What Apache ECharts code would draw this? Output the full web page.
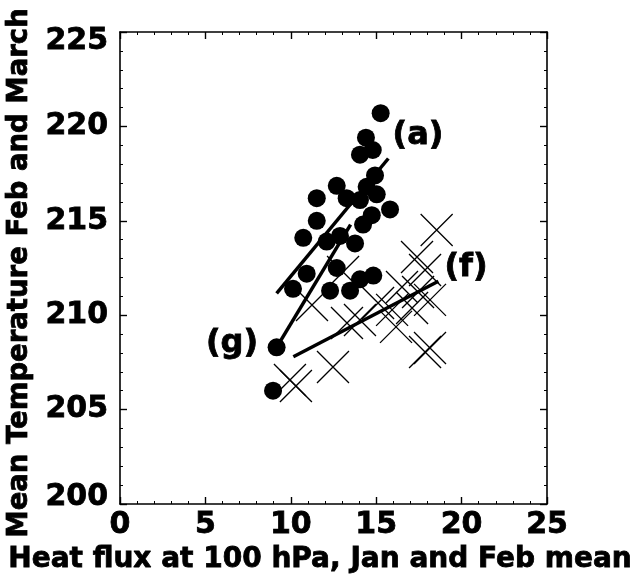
<!DOCTYPE html>
<html>
<head>
<meta charset="utf-8">
<script src="https://cdn.jsdelivr.net/npm/echarts@6/dist/echarts.min.js"></script>
<style>
html,body{margin:0;padding:0;background:#fff;}
#chart{width:638px;height:581px;}
</style>
</head>
<body>
<div id="chart"></div>
<script>
// Filled circles: heat flux (x) vs mean temperature (y)
const dotX = [15.26, 14.40, 14.80, 14.05, 14.93, 14.44, 12.69, 15.03, 13.27, 11.52, 14.05, 15.81, 14.74, 14.23, 11.52, 10.73, 12.10, 12.88, 13.76, 12.69, 10.93, 10.13, 12.30, 13.47, 14.05, 14.83, 9.17, 8.96];
const dotY = [220.7, 219.4, 218.75, 218.5, 217.4, 216.8, 216.85, 216.4, 216.2, 216.2, 216.1, 215.6, 215.3, 214.8, 215.0, 214.1, 213.9, 214.2, 213.8, 212.5, 212.2, 211.4, 211.3, 211.3, 211.9, 212.1, 208.3, 206.0];
// Crosses
const crossX = [18.54, 17.39, 17.86, 16.51, 17.45, 18.15, 15.93, 17.10, 15.11, 16.16, 14.05, 13.29, 11.24, 13.06, 17.86, 18.15, 12.47, 9.95, 10.30];
const crossY = [214.51, 213.08, 212.39, 211.49, 211.23, 210.81, 210.28, 210.38, 210.65, 209.38, 209.75, 209.59, 210.54, 212.29, 208.05, 208.26, 207.26, 206.57, 206.25];
// Fitted lines
const lineAX = [9.17, 15.71];
const lineAY = [211.16, 218.3];
const lineGX = [9.17, 13.5];
const lineGY = [208.3, 214.8];
const lineFX = [10.15, 18.64];
const lineFY = [207.8, 211.8];
// Curve labels
const labelText = ['(a)', '(f)', '(g)'];
const labelX = [17.45, 20.26, 6.56];
const labelY = [219.5, 212.5, 208.5];
// Axis settings
const xMin = 0, xMax = 25, xStep = 5;
const yMin = 200, yMax = 225, yStep = 5;
const xTitle = 'Heat flux at 100 hPa, Jan and Feb mean';
const yTitle = 'Mean Temperature Feb and March';

const zip = (a, b) => a.map((v, i) => [v, b[i]]);
const FONT = '"DejaVu Sans", sans-serif';
const crossPath = 'path://M0,0L10,10M10,0L0,10';
const heavy = {color: '#000', fontFamily: FONT, fontWeight: 'bold', textBorderColor: '#000', textBorderWidth: 0.8};

const axisCommon = {
  axisLine: {show: true, onZero: false, lineStyle: {color: '#000', width: 1.6}},
  axisTick: {show: true, inside: true, length: 7, lineStyle: {color: '#000', width: 1.4}},
  minorTick: {show: true, splitNumber: 5, length: 3, lineStyle: {color: '#000', width: 1}},
  splitLine: {show: false},
  minorSplitLine: {show: false}
};

const chart = echarts.init(document.getElementById('chart'), null, {renderer: 'canvas'});
chart.setOption({
  backgroundColor: '#fff',
  animation: false,
  grid: {left: 120, right: 91, top: 32, bottom: 77, containLabel: false, outerBoundsMode: 'none'},
  xAxis: [
    Object.assign({}, axisCommon, {
      type: 'value', min: xMin, max: xMax, interval: xStep, position: 'bottom',
      axisLabel: Object.assign({show: true, margin: 6, fontSize: 30}, heavy),
      name: xTitle, nameLocation: 'middle', nameGap: 36,
      nameTextStyle: Object.assign({fontSize: 28, padding: [0, 27, 0, 0]}, heavy)
    }),
    Object.assign({}, axisCommon, {
      type: 'value', min: xMin, max: xMax, interval: xStep, position: 'top',
      axisLabel: {show: false}
    })
  ],
  yAxis: [
    Object.assign({}, axisCommon, {
      type: 'value', min: yMin, max: yMax, interval: yStep, position: 'left',
      axisLabel: {
        show: true, margin: 12, color: '#000', fontFamily: FONT, fontWeight: 'bold', fontSize: 30,
        formatter: function (v) {
          if (v === yMax) return '{top|' + v + '}';
          if (v === yMin) return '{bot|' + v + '}';
          return '{n|' + v + '}';
        },
        rich: {
          top: Object.assign({fontSize: 30, padding: [18, 0, 0, 0]}, heavy),
          bot: Object.assign({fontSize: 30, padding: [0, 0, 14, 0]}, heavy),
          n: Object.assign({fontSize: 30}, heavy)
        }
      },
      name: yTitle, nameLocation: 'middle', nameGap: 81,
      nameTextStyle: Object.assign({fontSize: 27.5, padding: [0, 10, 0, 0]}, heavy)
    }),
    Object.assign({}, axisCommon, {
      type: 'value', min: yMin, max: yMax, interval: yStep, position: 'right',
      axisLabel: {show: false}
    })
  ],
  series: [
    {
      type: 'line', data: zip(lineAX, lineAY), symbol: 'none',
      lineStyle: {color: '#000', width: 3.5, opacity: 1}, z: 3
    },
    {
      type: 'line', data: zip(lineGX, lineGY), symbol: 'none',
      lineStyle: {color: '#000', width: 3.5, opacity: 1}, z: 3
    },
    {
      type: 'line', data: zip(lineFX, lineFY), symbol: 'none',
      lineStyle: {color: '#000', width: 3.5, opacity: 1}, z: 3
    },
    {
      type: 'scatter', data: zip(crossX, crossY), symbol: crossPath, symbolSize: 32,
      itemStyle: {color: 'rgba(0,0,0,0)', borderColor: '#000', borderWidth: 1.3, opacity: 1}, z: 2
    },
    {
      type: 'scatter', data: zip(dotX, dotY), symbol: 'circle', symbolSize: 18,
      itemStyle: {color: '#000', opacity: 1}, z: 4
    },
    {
      type: 'scatter', data: labelText.map((t, i) => ({value: [labelX[i], labelY[i]], name: t})),
      symbolSize: 0, silent: true, z: 5, itemStyle: {opacity: 1},
      label: Object.assign({show: true, position: 'inside', formatter: '{b}', fontSize: 32, opacity: 1}, heavy)
    }
  ]
});
</script>
</body>
</html>
